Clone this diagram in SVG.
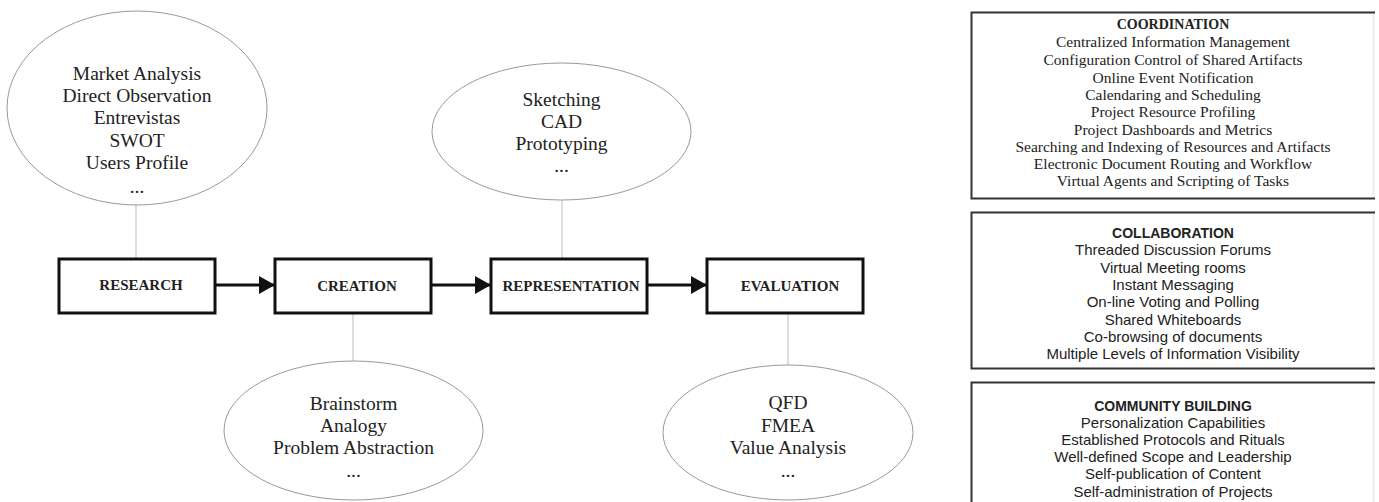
<svg xmlns="http://www.w3.org/2000/svg" width="1379" height="502" viewBox="0 0 1379 502">
  <defs>
    <marker id="arrowhead" markerWidth="16" markerHeight="18" refX="16" refY="9" orient="auto" markerUnits="userSpaceOnUse">
      <path d="M0,0 L16,9 L0,18 Z" fill="#111"/>
    </marker>
    <style>
      .stage rect { fill: #fff; stroke: #111; stroke-width: 3; }
      .stage text { font-family: "Liberation Serif", "Times New Roman", serif; font-weight: bold; font-size: 15px; fill: #222; text-anchor: middle; }
      .tools ellipse { fill: #fff; stroke: #999; stroke-width: 1; }
      .tools text { font-family: "Liberation Serif", "Times New Roman", serif; font-size: 19.5px; fill: #222; text-anchor: middle; }
      .link { stroke: #bbb; stroke-width: 1; fill: none; }
      .flow { stroke: #111; stroke-width: 3; fill: none; }
      .panel .frame { fill: none; stroke: #333; stroke-width: 2; }
      .panel .edge { fill: #f1f1f1; }
      .panel text { fill: #222; text-anchor: middle; }
      .serif text { font-family: "Liberation Serif", "Times New Roman", serif; font-size: 15.5px; }
      .serif .title { font-weight: bold; font-size: 14px; }
      .sans text { font-family: "Liberation Sans", Arial, sans-serif; font-size: 15px; }
      .sans .title { font-weight: bold; font-size: 14px; }
    </style>
  </defs>
  <rect width="1379" height="502" fill="#fff"/>

  <!-- connectors: thin lines from technique ellipses to stages, thick arrows between stages -->
  <g id="connectors">
    <line class="link" x1="136" y1="205" x2="136" y2="259"/>
    <line class="link" x1="562" y1="200" x2="562" y2="259"/>
    <line class="link" x1="353" y1="313" x2="353" y2="361"/>
    <line class="link" x1="788" y1="313" x2="788" y2="365"/>
    <line class="flow" x1="215" y1="285" x2="275" y2="285" marker-end="url(#arrowhead)"/>
    <line class="flow" x1="431" y1="285" x2="491" y2="285" marker-end="url(#arrowhead)"/>
    <line class="flow" x1="647" y1="285" x2="707" y2="285" marker-end="url(#arrowhead)"/>
  </g>

  <!-- technique ellipses -->
  <g id="research-tools" class="tools">
    <ellipse cx="137" cy="108" rx="130" ry="97"/>
    <text x="137" y="80">Market Analysis</text>
    <text x="137" y="102">Direct Observation</text>
    <text x="137" y="124">Entrevistas</text>
    <text x="137" y="147">SWOT</text>
    <text x="137" y="169">Users Profile</text>
    <text x="137" y="193">...</text>
  </g>
  <g id="representation-tools" class="tools">
    <ellipse cx="561.5" cy="131.5" rx="129.5" ry="68.5"/>
    <text x="561.5" y="106">Sketching</text>
    <text x="561.5" y="128">CAD</text>
    <text x="561.5" y="150">Prototyping</text>
    <text x="561.5" y="172">...</text>
  </g>
  <g id="creation-tools" class="tools">
    <ellipse cx="353.5" cy="430.5" rx="129.5" ry="69.5"/>
    <text x="353.5" y="410">Brainstorm</text>
    <text x="353.5" y="432">Analogy</text>
    <text x="353.5" y="454">Problem Abstraction</text>
    <text x="353.5" y="477">...</text>
  </g>
  <g id="evaluation-tools" class="tools">
    <ellipse cx="788" cy="432.5" rx="125" ry="67.5"/>
    <text x="788" y="409">QFD</text>
    <text x="788" y="432">FMEA</text>
    <text x="788" y="454">Value Analysis</text>
    <text x="788" y="477">...</text>
  </g>

  <!-- process stages -->
  <g id="research" class="stage">
    <rect x="59" y="259" width="156" height="54"/>
    <text x="141" y="290">RESEARCH</text>
  </g>
  <g id="creation" class="stage">
    <rect x="275" y="259" width="156" height="54"/>
    <text x="357" y="291">CREATION</text>
  </g>
  <g id="representation" class="stage">
    <rect x="491" y="259" width="156" height="54"/>
    <text x="571" y="291">REPRESENTATION</text>
  </g>
  <g id="evaluation" class="stage">
    <rect x="707" y="259" width="156" height="54"/>
    <text x="790" y="291">EVALUATION</text>
  </g>

  <!-- support panels -->
  <g id="coordination" class="panel serif">
    <rect class="edge" x="1372" y="13" width="3" height="185"/>
    <path class="frame" d="M1375,12.5 H971.5 V198.5 H1375"/>
    <text class="title" x="1173" y="29">COORDINATION</text>
    <text x="1173" y="47">Centralized Information Management</text>
    <text x="1173" y="65">Configuration Control of Shared Artifacts</text>
    <text x="1173" y="82.5">Online Event Notification</text>
    <text x="1173" y="100">Calendaring and Scheduling</text>
    <text x="1173" y="117">Project Resource Profiling</text>
    <text x="1173" y="134.5">Project Dashboards and Metrics</text>
    <text x="1173" y="152">Searching and Indexing of Resources and Artifacts</text>
    <text x="1173" y="169">Electronic Document Routing and Workflow</text>
    <text x="1173" y="186">Virtual Agents and Scripting of Tasks</text>
  </g>
  <g id="collaboration" class="panel sans">
    <rect class="edge" x="1372" y="213" width="3" height="155"/>
    <path class="frame" d="M1375,212.5 H971.5 V368.5 H1375"/>
    <text class="title" x="1173" y="238">COLLABORATION</text>
    <text x="1173" y="255">Threaded Discussion Forums</text>
    <text x="1173" y="273">Virtual Meeting rooms</text>
    <text x="1173" y="290">Instant Messaging</text>
    <text x="1173" y="307">On-line Voting and Polling</text>
    <text x="1173" y="325">Shared Whiteboards</text>
    <text x="1173" y="342">Co-browsing of documents</text>
    <text x="1173" y="359">Multiple Levels of Information Visibility</text>
  </g>
  <g id="community-building" class="panel sans">
    <rect class="edge" x="1372" y="383" width="3" height="125"/>
    <path class="frame" d="M1375,382.5 H971.5 V510"/>
    <text class="title" x="1173" y="411">COMMUNITY BUILDING</text>
    <text x="1173" y="427.5">Personalization Capabilities</text>
    <text x="1173" y="445">Established Protocols and Rituals</text>
    <text x="1173" y="462">Well-defined Scope and Leadership</text>
    <text x="1173" y="479">Self-publication of Content</text>
    <text x="1173" y="497">Self-administration of Projects</text>
  </g>
</svg>
